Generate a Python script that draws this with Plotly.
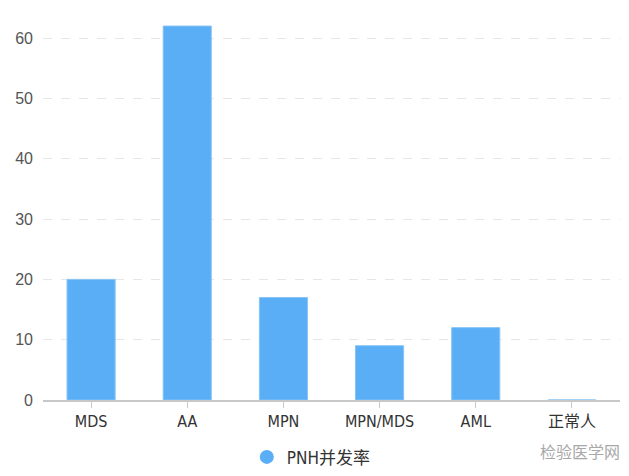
import plotly.graph_objects as go

categories = ["MDS", "AA", "MPN", "MPN/MDS", "AML", "正常人"]
values = [20, 62, 17, 9, 12, 0]
series_name = "PNH并发率"
y_ticks = [0, 10, 20, 30, 40, 50, 60]

BAR = "#5AAEF5"
narrow = "Liberation Sans Narrow, DejaVu Sans Condensed, Noto Sans CJK SC"

fig = go.Figure()
fig.add_trace(go.Bar(
    x=categories, y=values, name=series_name, showlegend=False,
    marker=dict(color=BAR, line=dict(color="#86C3F5", width=1)),
    width=0.5,
))
fig.add_trace(go.Scatter(
    x=[None], y=[None], mode="markers", name=series_name,
    marker=dict(symbol="circle", size=14, color=BAR),
))
fig.update_layout(
    width=629, height=476,
    margin=dict(l=35, r=17, t=6, b=84, autoexpand=False),
    paper_bgcolor="white", plot_bgcolor="white",
    showlegend=True,
    legend=dict(orientation="h", x=0.465, xanchor="center", y=-0.102, yanchor="top",
                font=dict(family=narrow, size=17, color="#333333"),
                itemwidth=30),
    xaxis=dict(
        type="category", showline=True, linecolor="#C8C8C8", linewidth=2,
        ticks="outside", tickcolor="#C8C8C8", ticklen=6,
        tickfont=dict(family=narrow, size=16, color="#333333"),
        showgrid=False, range=[-0.5, 5.5], automargin=False,
    ),
    yaxis=dict(
        range=[0, 64], tickvals=y_ticks, showgrid=True, gridcolor="#E6E6E6",
        griddash="dash", zeroline=False, showline=False,
        tickfont=dict(family="Liberation Sans, Arial", size=16, color="#555555"),
        ticks="", ticklabelstandoff=9, automargin=False,
    ),
    annotations=[dict(text="检验医学网", x=1.003, y=-0.133, xref="paper", yref="paper",
                      xanchor="right", yanchor="middle", showarrow=False,
                      font=dict(family="Noto Sans CJK SC", size=16, color="#A8A8A8"))],
)
fig.write_html("out.html")
